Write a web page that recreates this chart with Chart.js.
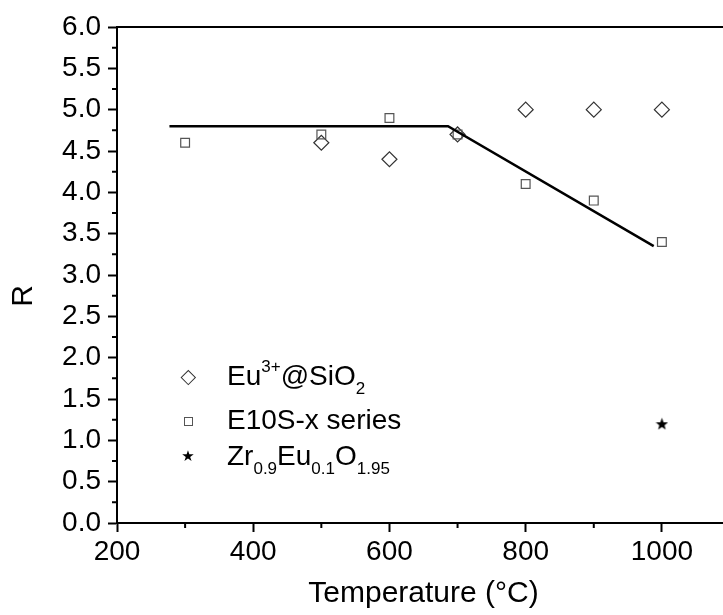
<!DOCTYPE html>
<html><head><meta charset="utf-8">
<script src="https://cdn.jsdelivr.net/npm/chart.js@4/dist/chart.umd.min.js"></script>
<style>
html,body{margin:0;padding:0;background:#fff;overflow:hidden;width:723px;height:615px;}
#wrap{position:absolute;left:0;top:0;width:740px;height:615px;}
#legend{position:absolute;left:0;top:0;width:723px;height:615px;font-family:"Liberation Sans",Arial,sans-serif;font-size:28px;color:#000;pointer-events:none;}
.row{position:absolute;left:227px;line-height:32px;white-space:nowrap;}
.sup,.sub{font-size:17px;position:relative;line-height:0;vertical-align:baseline;}
.sup{top:-13px;}
.sub{top:9px;}
.mk{position:absolute;box-sizing:border-box;}
</style>
</head><body>
<div id="wrap"><canvas id="c"></canvas></div>
<div id="legend">
  <div class="mk" style="left:182.7px;top:371.7px;width:10.6px;height:10.6px;border:1.3px solid #333;transform:rotate(45deg);"></div>
  <div class="row" style="top:360px;">Eu<span class="sup">3+</span>@SiO<span class="sub">2</span></div>
  <div class="mk" style="left:183.5px;top:416.5px;width:9px;height:9px;border:1.3px solid #555;"></div>
  <div class="row" style="top:404px;">E10S-x series</div>
  <div class="mk" style="left:180px;top:446px;width:16px;height:20px;font-family:'DejaVu Sans';font-size:15px;line-height:20px;text-align:center;">★</div>
  <div class="row" style="top:440px;">Zr<span class="sub">0.9</span>Eu<span class="sub">0.1</span>O<span class="sub">1.95</span></div>
</div>
<script>
// ---- data ----
const euTemps = [500, 600, 700, 800, 900, 1000];
const euR     = [4.6, 4.4, 4.7, 5.0, 5.0, 5.0];
const e10Temps = [300, 500, 600, 700, 800, 900, 1000];
const e10R     = [4.6, 4.7, 4.9, 4.7, 4.1, 3.9, 3.4];
const zrTemps = [1000];
const zrR     = [1.2];
const fitTemps = [277, 686, 988];
const fitR     = [4.8, 4.8, 3.35];
const xMajor = [200, 400, 600, 800, 1000];
const xMinor = [300, 500, 700, 900];
const yMajor = [0, 0.5, 1, 1.5, 2, 2.5, 3, 3.5, 4, 4.5, 5, 5.5, 6];
const yMinor = [0.25, 0.75, 1.25, 1.75, 2.25, 2.75, 3.25, 3.75, 4.25, 4.75, 5.25, 5.75];

const pts = (xs, ys) => xs.map((x, i) => ({x: x, y: ys[i]}));
const FONT = '"Liberation Sans", Arial, sans-serif';

function makeStar(size) {
  const c = document.createElement('canvas');
  c.width = size; c.height = size;
  const g = c.getContext('2d');
  const cx = size / 2, cy = size / 2 + 0.6, R = size / 2, r = R * 0.42;
  g.beginPath();
  for (let i = 0; i < 10; i++) {
    const a = -Math.PI / 2 + i * Math.PI / 5;
    const rad = i % 2 ? r : R;
    g.lineTo(cx + rad * Math.cos(a), cy + rad * Math.sin(a));
  }
  g.closePath();
  g.fillStyle = '#000';
  g.fill();
  return c;
}

const minorTicks = {
  id: 'minorTicks',
  afterDraw(chart) {
    const {ctx, scales: {x, y}} = chart;
    ctx.save();
    ctx.strokeStyle = '#000';
    ctx.lineWidth = 2;
    ctx.beginPath();
    xMinor.forEach(v => { const p = x.getPixelForValue(v); ctx.moveTo(p, y.bottom); ctx.lineTo(p, y.bottom + 5); });
    yMinor.forEach(v => { const p = y.getPixelForValue(v); ctx.moveTo(x.left, p); ctx.lineTo(x.left - 5, p); });
    ctx.stroke();
    ctx.restore();
  }
};

new Chart(document.getElementById('c'), {
  type: 'scatter',
  data: {
    datasets: [
      { label: 'fit', type: 'line', data: pts(fitTemps, fitR), borderColor: '#000', borderWidth: 2.5,
        pointRadius: 0, showLine: true, tension: 0, fill: false, order: 0 },
      { label: 'E10S-x series', data: pts(e10Temps, e10R), pointStyle: 'rect', pointRadius: 6.2,
        borderColor: '#555', borderWidth: 1.2, backgroundColor: 'rgba(0,0,0,0)', order: 1 },
      { label: 'Eu3+@SiO2', data: pts(euTemps, euR), pointStyle: 'rectRot', pointRadius: 7.5,
        borderColor: '#333', borderWidth: 1.2, backgroundColor: 'rgba(0,0,0,0)', order: 2 },
      { label: 'Zr0.9Eu0.1O1.95', data: pts(zrTemps, zrR), pointStyle: makeStar(13), pointRadius: 7,
        order: 3 }
    ]
  },
  options: {
    responsive: true,
    maintainAspectRatio: false,
    animation: false,
    devicePixelRatio: 1,
    layout: { padding: { left: 0, top: 27, right: 10, bottom: 0 } },
    plugins: { legend: { display: false }, tooltip: { enabled: false } },
    scales: {
      x: {
        type: 'linear', position: 'bottom', min: 200, max: 1100,
        afterBuildTicks: s => { s.ticks = xMajor.map(v => ({value: v})); },
        afterFit: s => { s.height = 92; },
        ticks: { font: { family: FONT, size: 28 }, color: '#000', padding: 3, maxRotation: 0,
                 callback: v => String(v) },
        grid: { drawOnChartArea: false, tickLength: 9, tickWidth: 2, tickColor: '#000' },
        border: { color: '#000', width: 2 },
        title: { display: true, text: 'Temperature (°C)', color: '#000',
                 font: { family: FONT, size: 30 }, padding: { top: 0, bottom: 3 } }
      },
      xTop: {
        type: 'linear', position: 'top', min: 200, max: 1100,
        afterFit: s => { s.height = 0; },
        ticks: { display: false },
        grid: { drawOnChartArea: false, drawTicks: false },
        border: { color: '#000', width: 2 }
      },
      y: {
        type: 'linear', position: 'left', min: 0, max: 6,
        afterBuildTicks: s => { s.ticks = yMajor.map(v => ({value: v})); },
        afterFit: s => { s.width = 117; },
        ticks: { font: { family: FONT, size: 28 }, color: '#000', padding: 7,
                 callback: v => Number(v).toFixed(1) },
        grid: { drawOnChartArea: false, tickLength: 9, tickWidth: 2, tickColor: '#000' },
        border: { color: '#000', width: 2 },
        title: { display: true, text: 'R\u00A0\u00A0\u00A0\u00A0\u00A0', color: '#000',
                 font: { family: FONT, size: 30 }, padding: { top: 6, bottom: 0 } }
      }
    }
  },
  plugins: [minorTicks]
});
</script>
</body></html>
